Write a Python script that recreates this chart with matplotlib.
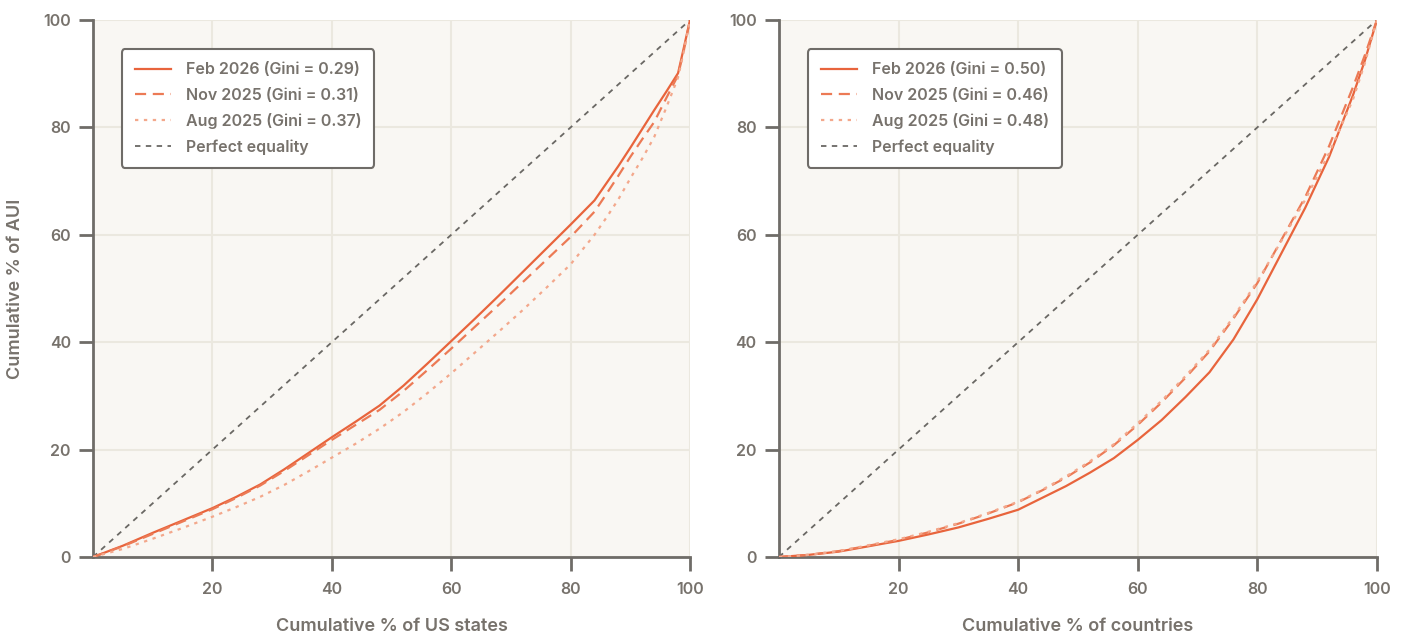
import matplotlib.pyplot as plt

# Lorenz curve points (cumulative % of units, cumulative % of AUI)
us_x = [0, 5, 10, 15, 20, 24, 28, 32, 36, 40, 44, 48, 52, 56, 60, 64, 68, 72, 76, 80,
        84, 86, 88, 90, 92, 94, 96, 98, 99, 100]
us_feb = [0, 2.1, 4.5, 6.8, 9.1, 11.2, 13.5, 16.3, 19.3, 22.3, 25.2, 28.2, 31.9, 36.0, 40.2,
          44.4, 48.7, 53.1, 57.5, 61.9, 66.4, 69.6, 72.8, 76.2, 79.7, 83.2, 86.6, 90.1, 95.0, 100]
us_nov = [0, 2.0, 4.3, 6.6, 8.9, 11.0, 13.3, 16.0, 18.9, 21.8, 24.6, 27.4, 30.9, 34.8, 38.8,
          42.9, 47.0, 51.2, 55.4, 59.6, 64.3, 67.6, 71.0, 74.5, 77.8, 81.0, 85.4, 89.7, 94.5, 100]
us_aug = [0, 1.5, 3.4, 5.4, 7.5, 9.3, 11.2, 13.4, 15.9, 18.5, 21.1, 23.9, 27.0, 30.5, 34.2,
          38.1, 42.0, 46.0, 50.2, 54.5, 60.0, 63.2, 66.6, 70.5, 74.2, 78.2, 83.6, 89.3, 94.3, 100]

ctry_x = [0, 5, 10, 15, 20, 25, 30, 35, 40, 44, 48, 52, 56, 60, 64, 68, 72, 76, 80,
          84, 88, 92, 96, 98, 100]
ctry_feb = [0, 0.4, 1.0, 2.0, 3.0, 4.2, 5.5, 7.1, 8.8, 11.0, 13.2, 15.7, 18.4, 21.8, 25.5,
            29.8, 34.4, 40.5, 48.0, 56.5, 65.0, 74.5, 86.0, 92.5, 100]
ctry_nov = [0, 0.4, 1.1, 2.1, 3.2, 4.6, 6.2, 8.1, 10.2, 12.4, 14.8, 17.6, 20.8, 24.6, 28.8,
            33.4, 38.3, 44.4, 51.0, 59.0, 67.0, 76.5, 87.5, 93.5, 100]
ctry_aug = [0, 0.4, 1.1, 2.2, 3.3, 4.7, 6.3, 8.2, 10.3, 12.5, 15.0, 17.8, 21.0, 24.9, 29.1,
            33.7, 38.6, 44.7, 51.3, 58.8, 66.5, 75.2, 85.2, 92.0, 100]

us_gini = [0.29, 0.31, 0.37]
ctry_gini = [0.50, 0.46, 0.48]
periods = ['Feb 2026', 'Nov 2025', 'Aug 2025']

plt.rcParams['font.family'] = ['Inter', 'DejaVu Sans']

TEXT = '#77726c'
SPINE = '#6f6c68'
BG = '#f9f7f3'
GRID = '#ebe8df'
styles = [('#e8643c', '-', 1.6), ('#ec7a55', (0, (5, 3)), 1.6), ('#f3a88c', (0, (1.5, 2.5)), 1.6)]

fig = plt.figure(figsize=(14.01, 6.37), dpi=100)
ax1 = fig.add_axes([0.0664, 0.1256, 0.4261, 0.843])
ax2 = fig.add_axes([0.5560, 0.1256, 0.4268, 0.843])

panels = [
    (ax1, us_x, [us_feb, us_nov, us_aug], us_gini, 'Cumulative % of US states'),
    (ax2, ctry_x, [ctry_feb, ctry_nov, ctry_aug], ctry_gini, 'Cumulative % of countries'),
]

for ax, xs, series, ginis, xlabel in panels:
    ax.set_facecolor(BG)
    for ys, g, name, (c, ls, lw) in zip(series, ginis, periods, styles):
        ax.plot(xs, ys, color=c, linestyle=ls, linewidth=lw,
                label=f'{name} (Gini = {g:.2f})', zorder=3)
    ax.plot([0, 100], [0, 100], color='#6a6864', linestyle=(0, (3, 3)),
            linewidth=1.3, label='Perfect equality', zorder=2)
    ax.set_xlim(0, 100)
    ax.set_ylim(0, 100)
    ax.set_xticks([20, 40, 60, 80, 100])
    ax.set_yticks([0, 20, 40, 60, 80, 100])
    ax.grid(True, color=GRID, linewidth=1.5, zorder=0)
    ax.set_axisbelow(True)
    for s in ['top', 'right']:
        ax.spines[s].set_visible(False)
    for s in ['left', 'bottom']:
        ax.spines[s].set_color(SPINE)
        ax.spines[s].set_linewidth(2)
    ax.tick_params(axis='x', length=10, width=2, color=SPINE, pad=8,
                   labelsize=11.5, labelcolor=TEXT)
    ax.tick_params(axis='y', length=10, width=2, color=SPINE, pad=6,
                   labelsize=11.5, labelcolor=TEXT)
    for lab in ax.get_xticklabels() + ax.get_yticklabels():
        lab.set_fontweight('semibold')
    ax.set_xlabel(xlabel, fontsize=13, color=TEXT, fontweight='semibold', labelpad=15)
    leg = ax.legend(loc='upper left', bbox_to_anchor=(0.035, 0.96), fontsize=11.5,
                    frameon=True, fancybox=True, borderpad=0.8, labelspacing=0.65,
                    handlelength=2.3, handletextpad=0.9)
    leg.get_frame().set_edgecolor('#6f6c68')
    leg.get_frame().set_linewidth(1.5)
    leg.get_frame().set_facecolor('white')
    leg.get_frame().set_alpha(1)
    for t in leg.get_texts():
        t.set_color(TEXT)
        t.set_fontweight('semibold')

ax1.set_ylabel('Cumulative % of AUI', fontsize=13, color=TEXT, fontweight='semibold', labelpad=14)

fig.savefig('out.png', dpi=100, facecolor='white')
